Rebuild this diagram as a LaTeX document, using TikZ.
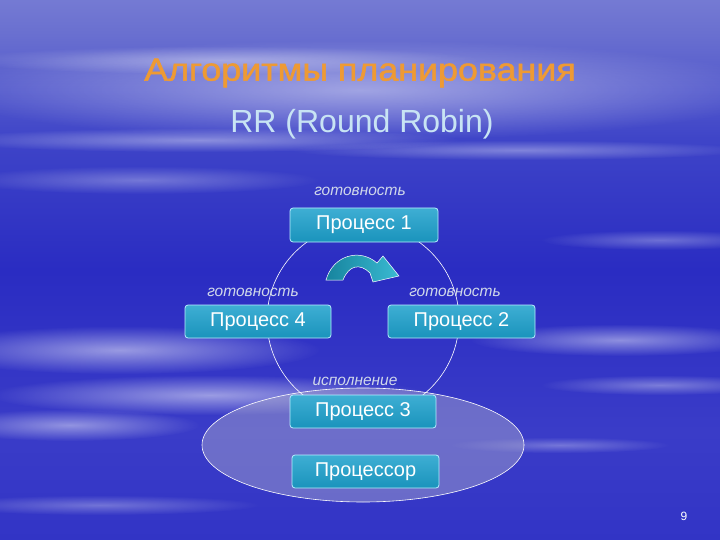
\documentclass[tikz,border=0pt]{standalone}
\usepackage{fontspec}
\setmainfont{Liberation Sans}
\newfontfamily\titlefont[FakeBold=1.5]{Liberation Sans}
\usetikzlibrary{fadings}
\definecolor{boxfill}{HTML}{1CA0CC}
\definecolor{boxline}{HTML}{B8EEFF}
\definecolor{titleor}{HTML}{EE9A34}
\definecolor{subtl}{HTML}{C8E4F4}
\definecolor{lbl}{HTML}{D0D8EA}
\definecolor{ellfill}{HTML}{A0A0CC}
\definecolor{arrL}{HTML}{17849E}
\definecolor{arrR}{HTML}{3ABAD2}
\definecolor{bgA}{HTML}{2222C0}
\definecolor{bgB}{HTML}{2E30C4}
\definecolor{bgC}{HTML}{3A3CC8}
\definecolor{bgD}{HTML}{2A2CC2}
\definecolor{bgE}{HTML}{3E44C8}
\definecolor{bgF}{HTML}{6A70D0}
\definecolor{bgG}{HTML}{9498DC}
\definecolor{bgH}{HTML}{6068C8}
\definecolor{bgI}{HTML}{3C40C0}
\pgfdeclareverticalshading{bgsh}{100bp}{
  color(0bp)=(bgA);
  color(20bp)=(bgB);
  color(35bp)=(bgC);
  color(50bp)=(bgD);
  color(62bp)=(bgE);
  color(72bp)=(bgF);
  color(84bp)=(bgG);
  color(93bp)=(bgH);
  color(100bp)=(bgI)}
\tikzfading[name=softc, inner color=transparent!0, outer color=transparent!100]
\newcommand{\mycloud}[5]{\fill[white, opacity=#5, path fading=softc] (#1,#2) ellipse [x radius=#3pt, y radius=#4pt];}
\tikzset{
  procbox/.style={draw=boxline, line width=0.8pt, top color=boxfill!85!white, bottom color=boxfill!92!black, rounded corners=3pt,
    minimum width=147pt, minimum height=33pt, inner sep=0pt, text=white,
    font=\fontsize{20}{22}\selectfont},
  statelbl/.style={text=lbl, font=\itshape\fontsize{15.5}{17}\selectfont, inner sep=0pt},
  thinwhite/.style={draw=white, line width=0.6pt}
}
\begin{document}
\begin{tikzpicture}[x=1pt,y=-1pt]
\useasboundingbox (0,0) rectangle (720,540);
% background
\shade[shading=bgsh] (0,0) rectangle (720,540);
\mycloud{360}{90}{420}{50}{0.45}
\mycloud{220}{60}{260}{14}{0.35}
\mycloud{200}{140}{260}{12}{0.4}
\mycloud{520}{150}{230}{10}{0.35}
\mycloud{140}{180}{180}{14}{0.3}
\mycloud{660}{240}{120}{10}{0.3}
\mycloud{120}{350}{200}{24}{0.5}
\mycloud{210}{395}{220}{20}{0.5}
\mycloud{70}{425}{130}{16}{0.45}
\mycloud{620}{340}{150}{16}{0.45}
\mycloud{660}{385}{120}{10}{0.35}
\mycloud{560}{445}{110}{8}{0.3}
\mycloud{100}{505}{160}{10}{0.3}
% title
\node[text=titleor, font=\titlefont\fontsize{32}{36}\selectfont, transform shape, xscale=1.12] (title) at (360,73) {Алгоритмы планирования};
\node[text=subtl, font=\fontsize{32}{36}\selectfont] (sub) at (362,124) {RR (Round Robin)};
% ellipse and circle
\path[thinwhite, fill=ellfill, fill opacity=0.5] (363,445) ellipse [x radius=161pt, y radius=57pt];
\coordinate (cc) at (363,320);
\draw[thinwhite] (cc) circle [radius=96pt];
% boxes
\node[procbox, minimum width=148pt, minimum height=34pt] (p1) at (364,225) {Процесс 1};
\node[procbox, minimum width=146pt] (p4) at (258,321.5) {Процесс 4};
\node[procbox] (p2) at (461.5,321.5) {Процесс 2};
\node[procbox, minimum width=146pt] (p3) at (363,411.5) {Процесс 3};
\node[procbox] (cpu) at (365.5,471.5) {Процессор};
% labels
\node[statelbl] (l1) at (360,191) {готовность};
\node[statelbl] (l4) at (253,292) {готовность};
\node[statelbl] (l2) at (455,292) {готовность};
\node[statelbl] (l3) at (355,381) {исполнение};
% curved arrow
\shade[left color=arrL, right color=arrR, draw=white, line width=0.5pt]
  (326,280) .. controls (333,255) and (360,248) .. (377,263) -- (383,256) -- (399,276)
  -- (373,282) -- (370,273) .. controls (360,263) and (349,265) .. (343,280) -- cycle;
% page number
\node[text=white, font=\fontsize{12}{14}\selectfont] (pg) at (684,516) {9};
\end{tikzpicture}
\end{document}
